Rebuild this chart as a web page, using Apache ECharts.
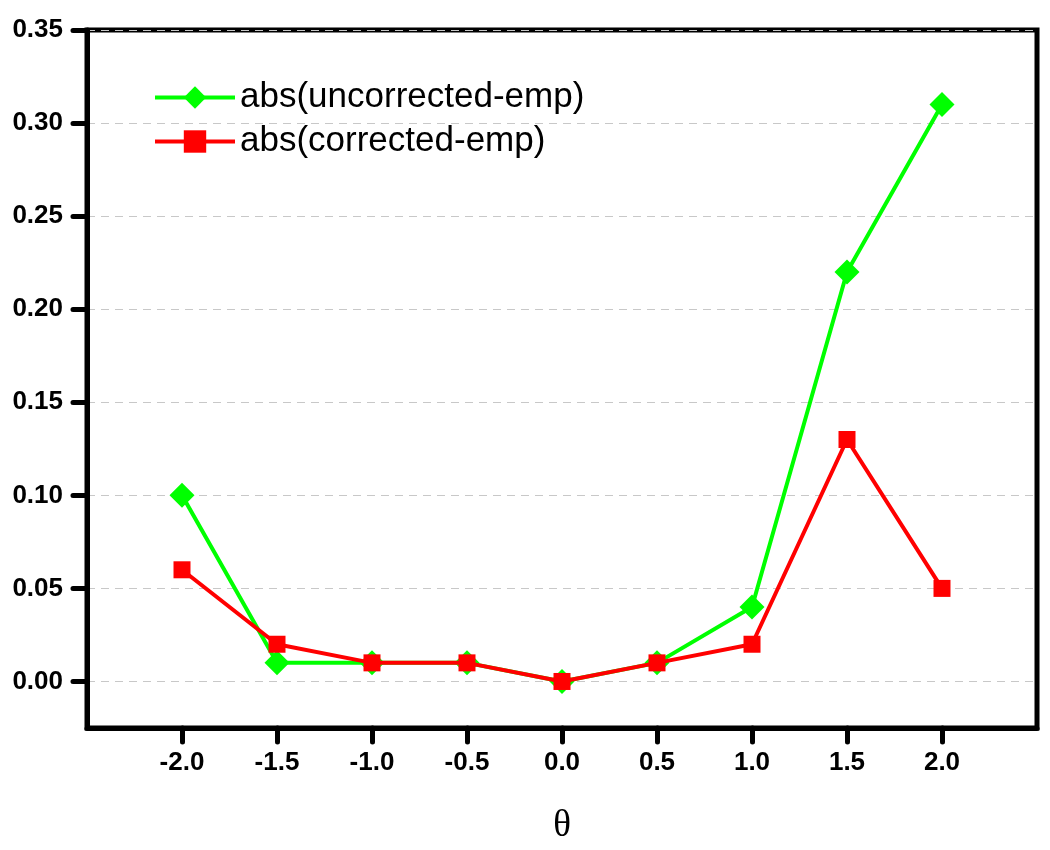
<!DOCTYPE html>
<html>
<head>
<meta charset="utf-8">
<script src="https://cdn.jsdelivr.net/npm/echarts@6/dist/echarts.min.js"></script>
<style>html,body{margin:0;padding:0;background:#fff;}#chart{width:1050px;height:850px;}</style>
</head>
<body>
<div id="chart"></div>
<script>
const thetaValues = [-2.0, -1.5, -1.0, -0.5, 0.0, 0.5, 1.0, 1.5, 2.0];
const uncorrectedDiff = [0.10, 0.01, 0.01, 0.01, 0.00, 0.01, 0.04, 0.22, 0.31];
const correctedDiff = [0.06, 0.02, 0.01, 0.01, 0.00, 0.01, 0.02, 0.13, 0.05];
const seriesNames = ['abs(uncorrected-emp)', 'abs(corrected-emp)'];
const xTicks = [-2.0, -1.5, -1.0, -0.5, 0.0, 0.5, 1.0, 1.5, 2.0];
const yTicks = [0.00, 0.05, 0.10, 0.15, 0.20, 0.25, 0.30, 0.35];

const pairs = (ys) => thetaValues.map((x, i) => [x, ys[i]]);
const chart = echarts.init(document.getElementById('chart'), null, {renderer: 'canvas'});
const labelFont = {fontFamily: 'Liberation Sans, Arial, sans-serif', fontWeight: 'bold', fontSize: 26, color: '#000'};
chart.setOption({
  animation: false,
  backgroundColor: '#fff',
  grid: {left: 87, right: 13, top: 30, bottom: 122, show: true, borderColor: '#000', borderWidth: 5},
  legend: {
    orient: 'vertical', left: 148, top: 75, itemWidth: 80, itemHeight: 28, itemGap: 9,
    lineStyle: {width: 4},
    textStyle: {fontFamily: 'Liberation Sans, Arial, sans-serif', fontSize: 35, color: '#000'},
    data: seriesNames
  },
  xAxis: {
    type: 'value', min: -2.5, max: 2.5, interval: 0.5,
    name: 'θ', nameLocation: 'middle', nameGap: 80,
    nameTextStyle: {fontFamily: 'Liberation Serif, Times New Roman, serif', fontSize: 37, color: '#000'},
    axisLine: {onZero: false, lineStyle: {color: '#000', width: 5}},
    axisTick: {show: true, length: 14, customValues: xTicks, lineStyle: {color: '#000', width: 5, cap: 'round'}},
    axisLabel: Object.assign({margin: 22, customValues: xTicks, formatter: v => v.toFixed(1)}, labelFont),
    splitLine: {show: false}
  },
  yAxis: {
    type: 'value', min: -0.025, max: 0.35, interval: 0.025,
    axisLine: {onZero: false, lineStyle: {color: '#000', width: 5}},
    axisTick: {show: true, length: 14, customValues: yTicks, lineStyle: {color: '#000', width: 5, cap: 'round'}},
    axisLabel: Object.assign({margin: 24, customValues: yTicks, formatter: v => v.toFixed(2)}, labelFont),
    splitLine: {show: true, lineStyle: {color: '#c8c8c8', width: 1.2, type: [8, 6]}}
  },
  series: [
    {
      name: seriesNames[0], type: 'line', data: pairs(uncorrectedDiff),
      symbol: 'diamond', symbolSize: 25,
      lineStyle: {color: '#00ff00', width: 4}, itemStyle: {color: '#00ff00'}, z: 2
    },
    {
      name: seriesNames[1], type: 'line', data: pairs(correctedDiff),
      symbol: 'rect', symbolSize: 17,
      lineStyle: {color: '#ff0000', width: 4}, itemStyle: {color: '#ff0000'}, z: 3
    }
  ]
});
</script>
</body>
</html>
